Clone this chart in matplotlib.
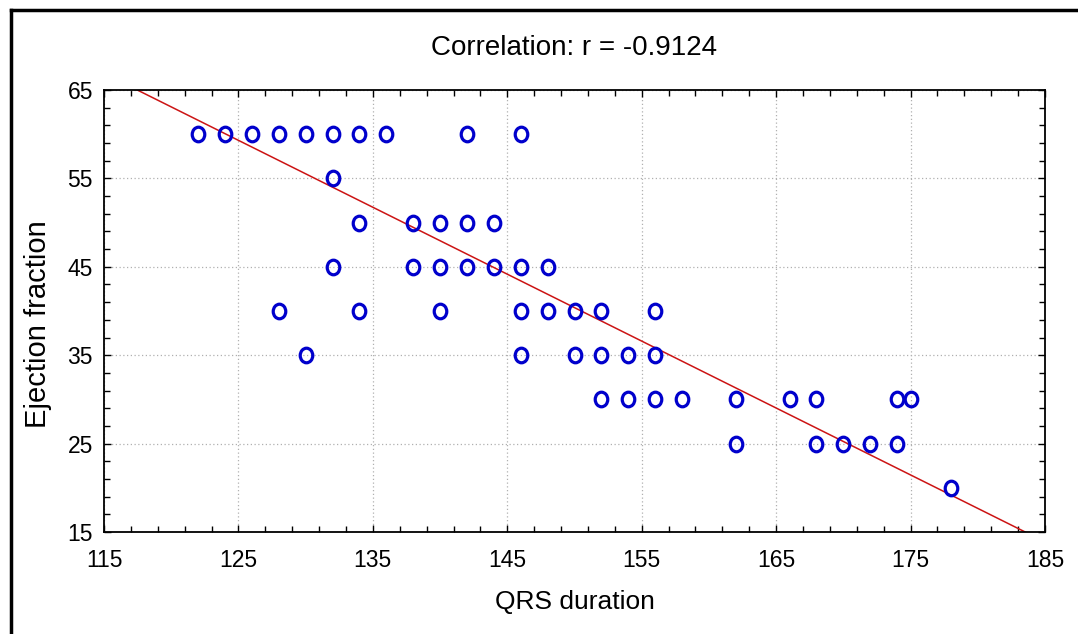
import matplotlib
matplotlib.use("Agg")
import matplotlib.pyplot as plt
from matplotlib.lines import Line2D
from matplotlib.markers import MarkerStyle
from matplotlib.transforms import Affine2D
import numpy as np

# QRS duration vs ejection fraction, one list per EF level
qrs = [122, 124, 126, 128, 130, 132, 134, 136, 142, 146,
       132,
       134, 138, 140, 142, 144,
       132, 138, 140, 142, 144, 146, 148,
       128, 134, 140, 146, 148, 150, 152, 156,
       130, 146, 150, 152, 154, 156,
       152, 154, 156, 158, 162, 166, 168, 174, 175,
       162, 168, 170, 172, 174,
       178]
ef = [60] * 10 + [55] + [50] * 5 + [45] * 7 + [40] * 8 + [35] * 6 + [30] * 9 + [25] * 5 + [20]

# regression line of the full sample
fit_slope = -0.757
fit_intercept = 153.93
r_value = -0.9124

font = ['Liberation Sans', 'DejaVu Sans']

W, H = 1078, 634
fig = plt.figure(figsize=(W / 100, H / 100), dpi=100)
ax = fig.add_axes([104 / W, 1 - 532 / H, (1045 - 104) / W, (532 - 90) / H])

xs = np.array([115, 185])
ax.plot(xs, fit_intercept + fit_slope * xs, color='#cc1414', lw=1.1, zorder=2)

circle = MarkerStyle('o', fillstyle='none', transform=Affine2D().scale(0.86, 1.0))
ax.plot(qrs, ef, linestyle='none', marker=circle, ms=10.5, mew=2.3,
        mec='#0000cc', zorder=3)

ax.set_xlim(115, 185)
ax.set_ylim(15, 65)
ax.set_xticks(np.arange(115, 186, 10))
ax.set_yticks(np.arange(15, 66, 10))
ax.set_xticks(np.arange(115, 186, 2), minor=True)
ax.set_yticks(np.arange(15, 66, 2), minor=True)
ax.tick_params(which='both', direction='in', top=True, right=True, color='black')
ax.tick_params(which='major', length=5, width=1)
ax.tick_params(which='minor', length=4, width=1)
ax.tick_params(axis='x', pad=12)
ax.tick_params(axis='y', pad=8)
ax.grid(True, which='major', linestyle=(0, (1, 2)), color='#b0b0b0', lw=0.9)
ax.set_axisbelow(True)
for s in ax.spines.values():
    s.set_linewidth(1.3)

for lab in ax.get_xticklabels() + ax.get_yticklabels():
    lab.set_family(font)
    lab.set_fontsize(16.5)

ax.set_title('Correlation: r = %.4f' % r_value, family=font, fontsize=20, pad=25)
ax.set_xlabel('QRS duration', family=font, fontsize=19, labelpad=13)
ax.set_ylabel('Ejection fraction', family=font, fontsize=21)
ax.yaxis.set_label_coords(-0.070, 0.47)
ax.yaxis.label.set_verticalalignment('center')

# outer frame, top and left edges
fig.add_artist(Line2D([11 / W, 1], [1 - 10 / H, 1 - 10 / H], color='black', lw=2.5))
fig.add_artist(Line2D([11 / W, 11 / W], [0, 1 - 10 / H], color='black', lw=2.5))

fig.savefig('out.png', dpi=100)
